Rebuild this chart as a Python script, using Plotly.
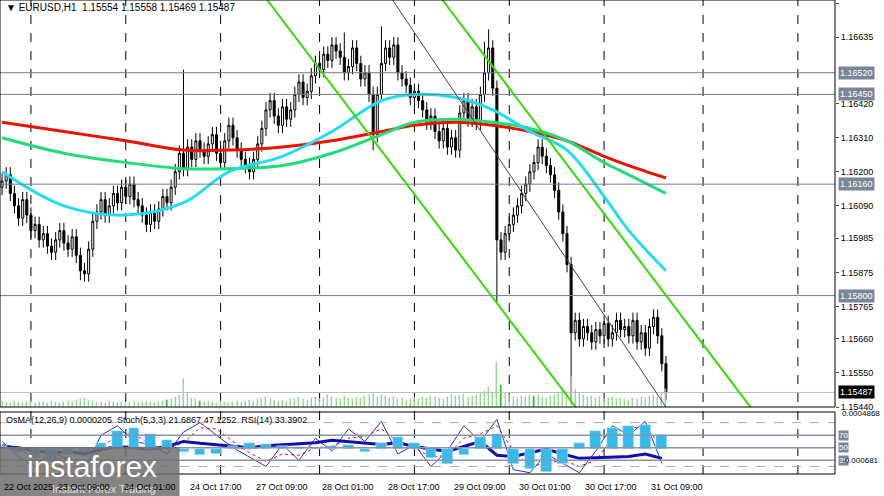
import plotly.graph_objects as go

# hourly closes, EURUSD H1 (22 Oct 11:00 .. 31 Oct 13:00, weekend skipped)
closes = [
    1.1617, 1.1619, 1.1613, 1.1609, 1.1605, 1.1611, 1.1606, 1.1601, 1.1603, 1.1598,
    1.1600, 1.1596, 1.1594, 1.1598, 1.1601, 1.1597, 1.1595, 1.1599, 1.1593, 1.1588,
    1.1587, 1.1595, 1.1604, 1.1607, 1.1611, 1.1606, 1.1609, 1.1613, 1.1610, 1.1615,
    1.1612, 1.1616, 1.1611, 1.1609, 1.1606, 1.1603, 1.1607, 1.1604, 1.1608, 1.1612,
    1.1610, 1.1615, 1.1620, 1.1626, 1.1621, 1.1628, 1.1624, 1.1630, 1.1627, 1.1625,
    1.1629, 1.1632, 1.1626, 1.1623, 1.1630, 1.1635, 1.1631, 1.1627, 1.1624, 1.1622,
    1.1620, 1.1624, 1.1629, 1.1634, 1.1640, 1.1643, 1.1638, 1.1635, 1.1641, 1.1637,
    1.1640, 1.1645, 1.1649, 1.1644, 1.1646, 1.1651, 1.1655, 1.1653, 1.1658, 1.1656,
    1.1661, 1.1659, 1.1657, 1.1652, 1.1654, 1.1660, 1.1655, 1.1650, 1.1652, 1.1645,
    1.1632, 1.1645, 1.1655, 1.1660, 1.1657, 1.1661, 1.1652, 1.1650, 1.1648, 1.1644,
    1.1646, 1.1643, 1.1640, 1.1636, 1.1638, 1.1633, 1.1630, 1.1634, 1.1628, 1.1631,
    1.1627, 1.1639, 1.1643, 1.1637, 1.1641, 1.1636, 1.1645, 1.1652, 1.1660, 1.1647,
    1.1598, 1.1594, 1.1600, 1.1603, 1.1606, 1.1609, 1.1613, 1.1616, 1.1620, 1.1623,
    1.1628, 1.1625, 1.1622, 1.1619, 1.1614, 1.1607, 1.1600, 1.1590, 1.1568, 1.1572,
    1.1566, 1.1570, 1.1568, 1.1565, 1.1569, 1.1567, 1.1571, 1.1566, 1.1568, 1.1572,
    1.1569, 1.1570, 1.1567, 1.1572, 1.1565, 1.1568, 1.1563, 1.1570, 1.1573, 1.1567,
    1.1558, 1.15487,
]
first_open = 1.1615
wick = 0.00025
# bars with long shadows
special_high = {44: 1.1653, 118: 1.1666, 117: 1.1662, 92: 1.1667, 83: 1.1665}
special_low = {120: 1.1578, 138: 1.1546, 90: 1.1627, 19: 1.1585}

volume = [
    6, 5, 4, 6, 5, 4, 5, 6, 4, 5, 5, 4, 6, 5, 4, 5, 6, 5, 7, 8,
    9, 7, 6, 5, 5, 4, 6, 5, 4, 5, 4, 5, 6, 4, 5, 6, 5, 4, 5, 6,
    7, 8, 10, 12, 28, 14, 9, 8, 6, 5, 6, 5, 4, 6, 5, 4, 5, 6, 5, 6,
    7, 6, 8, 9, 10, 8, 7, 6, 7, 6, 8, 9, 10, 8, 7, 9, 10, 8, 9, 12,
    10, 9, 8, 11, 9, 8, 10, 9, 11, 12, 14, 10, 12, 11, 9, 10, 8, 9, 7, 8,
    9, 8, 10, 9, 11, 10, 9, 8, 10, 12, 11, 12, 13, 10, 11, 12, 14, 16, 20, 15,
    45, 22, 14, 12, 10, 9, 11, 10, 12, 11, 12, 10, 9, 11, 12, 14, 16, 15, 30, 18,
    14, 12, 10, 11, 9, 10, 8, 9, 10, 8, 9, 8, 7, 9, 8, 10, 9, 11, 12, 10,
    14, 18,
]

# moving averages, sampled points (idx, price)
ma_idx = [0, 15, 30, 44, 55, 68, 80, 92, 100, 110, 119, 128, 137, 146, 152, 161]
ma_red = [1.1636, 1.1633, 1.1630, 1.1627, 1.1627, 1.1628, 1.1630, 1.1633, 1.1635, 1.1636,
          1.1635, 1.1633, 1.1630, 1.1625, 1.1622, 1.1618]
ma_green = [1.1631, 1.1626, 1.1623, 1.1621, 1.1621, 1.1622, 1.1626, 1.1632, 1.1636, 1.1637,
            1.1636, 1.1634, 1.1630, 1.1623, 1.1619, 1.1613]
ma_cyan = [1.1620, 1.1609, 1.1606, 1.1610, 1.1620, 1.1625, 1.1633, 1.1643, 1.1645, 1.1644,
           1.1640, 1.1633, 1.1627, 1.1612, 1.1601, 1.1588]

levels = [1.16520, 1.16450, 1.16160, 1.15800]
price_ticks = [1.16745, 1.16635, 1.16420, 1.16310, 1.16200, 1.16090, 1.15985,
               1.15875, 1.15765, 1.15660, 1.15550, 1.15440]

# indicators, every 4 bars
ind_idx = list(range(0, 161, 4))
rsi = [52, 50, 45, 42, 44, 40, 47, 52, 50, 48, 52, 60, 57, 55, 52, 50, 53, 55, 56, 58, 62,
       60, 57, 55, 58, 52, 48, 44, 52, 60, 38, 36, 42, 48, 40, 33, 34, 35, 36, 40, 33]
stoch = [60, 35, 20, 45, 30, 15, 70, 85, 60, 55, 40, 75, 90, 70, 50, 35, 20, 55, 30, 65, 45,
         80, 60, 92, 40, 55, 20, 45, 85, 60, 95, 15, 10, 40, 25, 10, 45, 85, 70, 92, 25]
stoch_sig = [55, 50, 30, 32, 35, 25, 45, 75, 72, 55, 48, 58, 82, 80, 60, 42, 28, 40, 38, 50, 52,
             65, 68, 80, 60, 50, 35, 38, 65, 72, 85, 45, 20, 25, 30, 20, 30, 65, 80, 85, 50]
osma = [50, -50, -150, -200, -100, -50, 100, 300, 350, 250, 150, -50, -100, -80, 50, 100, 80,
        50, 30, 20, 40, 60, -50, 100, 200, 100, -150, -250, -100, 200, 250, -250, -330, -380,
        -250, 100, 300, 350, 380, 400, 220]

tick_idx = [13, 29, 45, 61, 77, 93, 109, 125, 141, 157]
tick_text = ["23 Oct 09:00", "24 Oct 01:00", "24 Oct 17:00", "27 Oct 09:00", "28 Oct 01:00",
             "28 Oct 17:00", "29 Oct 09:00", "30 Oct 01:00", "30 Oct 17:00", "31 Oct 09:00"]
day_idx = [7, 30, 53, 77, 100, 123, 146, 170, 193]

opens = [first_open] + closes[:-1]
highs = [special_high.get(i, max(o, c) + wick) for i, (o, c) in enumerate(zip(opens, closes))]
lows = [special_low.get(i, min(o, c) - wick) for i, (o, c) in enumerate(zip(opens, closes))]
idx = list(range(len(closes)))

H, PH = 496, 474
FONT = "Liberation Sans, Arial"
fig = go.Figure()
fig.add_bar(x=idx, y=volume, marker_color="#22bb00", width=0.25, yaxis="y4", showlegend=False)
fig.add_candlestick(x=idx, open=opens, high=highs, low=lows, close=closes,
                    increasing=dict(line=dict(color="black", width=1), fillcolor="white"),
                    decreasing=dict(line=dict(color="black", width=1), fillcolor="black"),
                    whiskerwidth=0, showlegend=False)
fig.add_scatter(x=ma_idx, y=ma_red, mode="lines", line=dict(color="#ee1100", width=3, shape="spline"), showlegend=False)
fig.add_scatter(x=ma_idx, y=ma_green, mode="lines", line=dict(color="#22dd77", width=3, shape="spline"), showlegend=False)
fig.add_scatter(x=ma_idx, y=ma_cyan, mode="lines", line=dict(color="#22ddee", width=3, shape="spline"), showlegend=False)

fig.add_bar(x=ind_idx, y=[v * 1e-6 for v in osma], marker_color="#33bbee", width=2.6, yaxis="y3", showlegend=False)
fig.add_scatter(x=ind_idx, y=stoch_sig, yaxis="y2", mode="lines", line=dict(color="red", width=1, dash="dot"), showlegend=False)
fig.add_scatter(x=ind_idx, y=stoch, yaxis="y2", mode="lines", line=dict(color="#2233cc", width=1), showlegend=False)
fig.add_scatter(x=ind_idx, y=rsi, yaxis="y2", mode="lines", line=dict(color="#1111aa", width=3), showlegend=False)

shapes = []
for d in day_idx:
    shapes.append(dict(type="line", xref="x", yref="paper", x0=d, x1=d, y0=0, y1=1,
                       line=dict(color="black", width=1, dash="dash"), layer="below"))
for lv in levels:
    shapes.append(dict(type="line", xref="paper", yref="y", x0=0, x1=1, y0=lv, y1=lv,
                       line=dict(color="#6f7c8f", width=1)))
shapes.append(dict(type="line", xref="paper", yref="y", x0=0, x1=1, y0=closes[-1], y1=closes[-1],
                   line=dict(color="#bbbbbb", width=1)))
for lv in [70, 50, 30]:
    shapes.append(dict(type="line", xref="paper", yref="y2", x0=0, x1=1, y0=lv, y1=lv,
                       line=dict(color="#8a94a6", width=1.5)))
for lv in [90, 20]:
    shapes.append(dict(type="line", xref="paper", yref="y2", x0=0, x1=1, y0=lv, y1=lv,
                       line=dict(color="#aaaaaa", width=1, dash="dash")))
# channel lines
shapes += [
    dict(type="line", xref="x", yref="y", x0=64.3, y0=1.16755, x1=139.6, y1=1.15431, line=dict(color="#33dd00", width=2)),
    dict(type="line", xref="x", yref="y", x0=106.8, y0=1.16755, x1=182, y1=1.15431, line=dict(color="#33dd00", width=2)),
    dict(type="line", xref="x", yref="y", x0=94.7, y0=1.16755, x1=161, y1=1.15440, line=dict(color="#444444", width=1)),
]
# panel borders + watermark box
shapes += [
    dict(type="rect", xref="paper", yref="paper", x0=0, x1=1, y0=(PH - 407) / PH, y1=1, line=dict(color="black", width=1)),
    dict(type="rect", xref="paper", yref="paper", x0=0, x1=1, y0=0, y1=(PH - 412) / PH, line=dict(color="black", width=1)),
    dict(type="rect", xref="paper", yref="paper", x0=0, x1=0.215, y0=-0.05, y1=(PH - 447) / PH,
         fillcolor="rgba(110,110,110,0.85)", line=dict(width=0)),
]

ann = [dict(xref="paper", yref="paper", x=0.005, y=1, xanchor="left", yanchor="top", showarrow=False,
            text="▼ EURUSD,H1  1.15554 1.15558 1.15469 1.15487", font=dict(size=10, color="black")),
       dict(xref="paper", yref="paper", x=0.005, y=(PH - 413) / PH, xanchor="left", yanchor="top", showarrow=False,
            text="OsMA(12,26,9) 0.0000205  Stoch(5,3,3) 21.6867 47.1252  RSI(14) 33.3902", font=dict(size=9, color="black")),
       dict(xref="paper", yref="paper", x=0.03, y=(PH - 466) / PH, xanchor="left", yanchor="middle", showarrow=False,
            text="instaforex", font=dict(size=30, color="white", family=FONT)),
       dict(xref="paper", yref="paper", x=0.06, y=-0.032, xanchor="left", yanchor="middle", showarrow=False,
            text="Instant Forex Trading", font=dict(size=11, color="#dddddd", family=FONT)),
       dict(xref="x", yref="paper", x=0, y=-0.012, xanchor="left", yanchor="top", showarrow=False,
            text="22 Oct 2025", font=dict(size=9, color="black"))]
for t, s in zip(tick_idx, tick_text):
    ann.append(dict(xref="x", yref="paper", x=t, y=-0.012, xanchor="left", yanchor="top", showarrow=False,
                    text=s, font=dict(size=9, color="black")))
for lv in levels:
    ann.append(dict(xref="paper", yref="y", x=1.003, y=lv, xanchor="left", showarrow=False,
                    text="%.5f" % lv, bgcolor="#7a8597", font=dict(size=9, color="white"), borderpad=1))
ann.append(dict(xref="paper", yref="y", x=1.003, y=closes[-1], xanchor="left", showarrow=False,
                text="%.5f" % closes[-1], bgcolor="black", font=dict(size=9, color="white"), borderpad=1))
for lv in [70, 50, 30]:
    ann.append(dict(xref="paper", yref="y2", x=1.003, y=lv, xanchor="left", showarrow=False,
                    text=str(lv), bgcolor="#7a8597", font=dict(size=8, color="white"), borderpad=0))
ann.append(dict(xref="paper", yref="paper", x=1.006, y=(PH - 420) / PH, xanchor="left", showarrow=False,
                text="0.0004868", font=dict(size=8, color="black")))
ann.append(dict(xref="paper", yref="paper", x=1.006, y=(PH - 467) / PH, xanchor="left", showarrow=False,
                text="-0.000681", font=dict(size=8, color="black")))

fig.update_layout(
    width=884, height=H, margin=dict(l=0, r=49, t=0, b=22),
    paper_bgcolor="white", plot_bgcolor="white", font=dict(family=FONT, size=9),
    bargap=0, showlegend=False, shapes=shapes, annotations=ann,
    xaxis=dict(range=[-0.5, 202], showgrid=False, showticklabels=False, zeroline=False,
               rangeslider=dict(visible=False), fixedrange=True),
    yaxis=dict(domain=[(PH - 407) / PH, 1], range=[1.15440, 1.16755], side="right",
               tickvals=price_ticks, ticktext=["%.5f" % p for p in price_ticks],
               ticks="outside", ticklen=3, showgrid=False, zeroline=False,
               tickfont=dict(size=9, color="black")),
    yaxis4=dict(overlaying="y", range=[0, 407], visible=False),
    yaxis2=dict(domain=[0, (PH - 412) / PH], range=[8, 107], visible=False),
    yaxis3=dict(overlaying="y2", range=[-0.00042, 0.00061], visible=False),
)
fig.write_html("out.html", config={"displayModeBar": False},
               post_script="document.body.style.margin='0';")
